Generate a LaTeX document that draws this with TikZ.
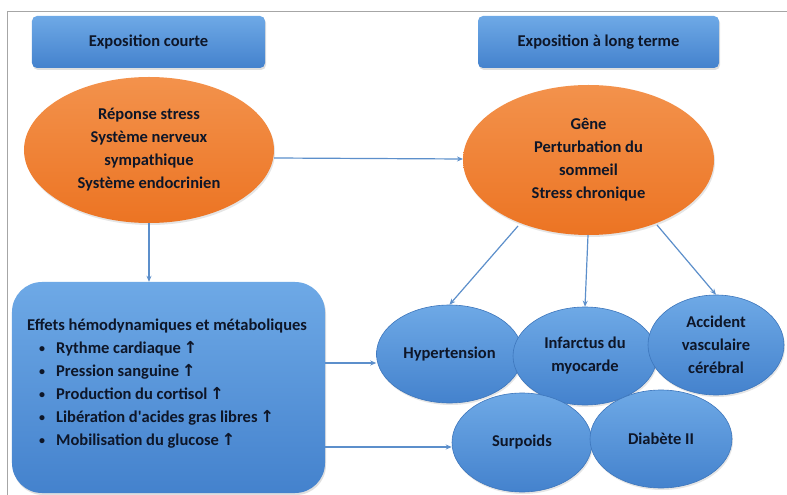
\documentclass[tikz,border=0pt]{standalone}
\usepackage{fontspec}
\setmainfont{Carlito}
\newfontfamily\arrowfont{DejaVu Sans}
\usetikzlibrary{shapes.geometric,arrows.meta,shadows}
\definecolor{txt}{HTML}{0E1628}
\definecolor{bluetop}{HTML}{6EA9E6}
\definecolor{bluebot}{HTML}{4482CD}
\definecolor{blueedge}{HTML}{3D76BC}
\definecolor{orangetop}{HTML}{F3924C}
\definecolor{orangebot}{HTML}{EC7423}
\definecolor{linkblue}{HTML}{5C8FCB}
\definecolor{framegray}{HTML}{A6A6A6}
\newcommand{\up}{\,{\arrowfont\bfseries ↑}}
\newcommand{\itm}[1]{\hspace*{12bp}\makebox[17bp][l]{\raisebox{1bp}{\fontsize{12bp}{12bp}\selectfont •}}#1}
\tikzset{
  lbl/.style={font=\bfseries\fontsize{16.5bp}{23bp}\selectfont, text=txt, align=center},
  headbox/.style={lbl, rectangle, rounded corners=5bp, top color=bluetop, bottom color=bluebot,
    minimum height=52bp, inner sep=0pt,
    drop shadow={opacity=0.25, shadow xshift=1bp, shadow yshift=-2bp}},
  orangeell/.style={lbl, ellipse, inner sep=0pt, top color=orangetop, bottom color=orangebot,
    drop shadow={opacity=0.2, shadow xshift=1bp, shadow yshift=-2bp}},
  blueell/.style={lbl, ellipse, inner sep=0pt, top color=bluetop, bottom color=bluebot,
    draw=blueedge, line width=0.6bp,
    drop shadow={opacity=0.2, shadow xshift=1bp, shadow yshift=-2bp}},
  bigbox/.style={lbl, rectangle, rounded corners=30bp, top color=bluetop, bottom color=bluebot,
    inner sep=0pt, align=left,
    drop shadow={opacity=0.25, shadow xshift=1bp, shadow yshift=-2bp}},
  link/.style={draw=linkblue, line width=1.2bp, -{Stealth[length=6bp,width=5bp]}},
}
\begin{document}
\begin{tikzpicture}[x=1bp,y=-1bp]
\useasboundingbox (0,0) rectangle (787,495);
\fill[white] (0,0) rectangle (787,495);
% frame lines
\draw[framegray, line width=0.8bp] (7,495) -- (7,11) -- (787,11);

% header boxes
\node[headbox, minimum width=233bp] (short) at (148.5,42) {Exposition courte};
\node[headbox, minimum width=241bp] (long) at (598.5,42) {Exposition à long terme};

% orange ellipses
\node[orangeell, minimum width=250bp, minimum height=146bp] (stress) at (149,150)
  {Réponse stress\\Système nerveux\\sympathique\\Système endocrinien};
\node[orangeell, minimum width=251bp, minimum height=150bp] (gene) at (588.5,160)
  {Gêne\\Perturbation du\\sommeil\\Stress chronique};

% big box
\node[bigbox, minimum width=313bp, minimum height=211bp] (effets) at (168.5,387.5) {};
\node[lbl, align=left, anchor=north west, inner sep=0pt] (effetstxt) at (27,319)
  {Effets hémodynamiques et métaboliques\\
   \itm{Rythme cardiaque\up}\\
   \itm{Pression sanguine\up}\\
   \itm{Production du cortisol\up}\\
   \itm{Libération d\textquotesingle acides gras libres\up}\\
   \itm{Mobilisation du glucose\up}};

% blue ellipses
\node[blueell, minimum width=146bp, minimum height=98bp] (hyp) at (449.5,354) {Hypertension};
\node[blueell, minimum width=144bp, minimum height=98bp] (inf) at (585,356) {Infarctus du\\myocarde};
\node[blueell, minimum width=136bp, minimum height=100bp] (avc) at (716,345) {Accident\\vasculaire\\cérébral};
\node[blueell, minimum width=140bp, minimum height=99bp] (surp) at (522,442.5) {Surpoids};
\node[blueell, minimum width=142bp, minimum height=98bp] (diab) at (661,439) {Diabète II};

% connectors
\coordinate (s1) at (274,158);
\coordinate (e1) at (463,159);
\draw[link] (s1) -- (e1);
\draw[link] (stress.south) -- (stress.south |- effets.north);
\coordinate (b1) at (325,363);
\coordinate (b2) at (325,447);
\draw[link] (b1) -- (hyp.west |- b1);
\draw[link] (b2) -- (surp.west |- b2);
\coordinate (g1) at (518,226);
\coordinate (g2) at (588,235);
\coordinate (g3) at (657,225);
\draw[link] (g1) -- (hyp.north);
\draw[link] (g2) -- (inf.north);
\draw[link] (g3) -- (avc.north);
\end{tikzpicture}
\end{document}
